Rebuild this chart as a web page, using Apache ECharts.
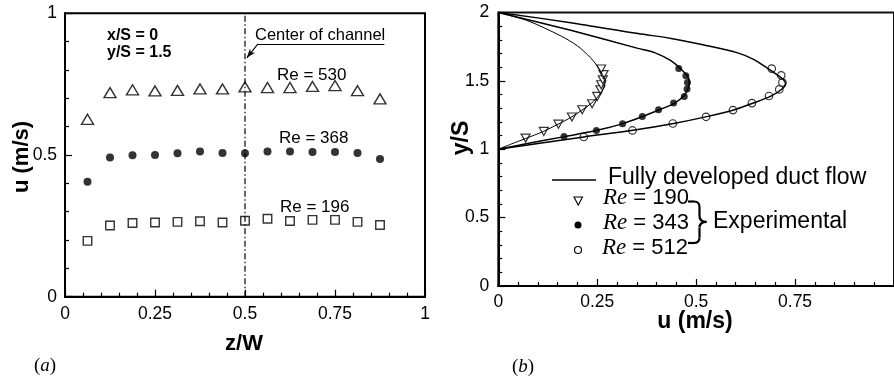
<!DOCTYPE html>
<html>
<head>
<meta charset="utf-8">
<script src="https://cdn.jsdelivr.net/npm/echarts@6/dist/echarts.min.js"></script>
<style>
  html, body { margin: 0; padding: 0; background: #fff; }
  #chart { width: 894px; height: 380px; }
</style>
</head>
<body>
<div id="chart"></div>
<script>
// (a) spanwise profile of u at x/S = 0, y/S = 1.5
const zW = [0.0625, 0.125, 0.1875, 0.25, 0.3125, 0.375, 0.4375, 0.5, 0.5625, 0.625, 0.6875, 0.75, 0.8125, 0.875];
const uRe530 = [0.626, 0.720, 0.730, 0.726, 0.728, 0.733, 0.733, 0.740, 0.738, 0.738, 0.742, 0.745, 0.727, 0.698];
const uRe368 = [0.406, 0.491, 0.499, 0.500, 0.506, 0.512, 0.507, 0.506, 0.512, 0.512, 0.511, 0.511, 0.507, 0.486];
const uRe196 = [0.197, 0.251, 0.260, 0.262, 0.264, 0.266, 0.262, 0.268, 0.275, 0.267, 0.271, 0.271, 0.264, 0.253];
const channelCenter = 0.5;

// (b) measured vertical profiles
const expU190 = [0.069, 0.115, 0.152, 0.186, 0.212, 0.237, 0.250, 0.258, 0.260, 0.264, 0.266, 0.260];
const expY190 = [1.081, 1.130, 1.183, 1.235, 1.288, 1.332, 1.386, 1.435, 1.471, 1.508, 1.545, 1.586];
const expU343 = [0.166, 0.248, 0.314, 0.364, 0.405, 0.443, 0.470, 0.477, 0.478, 0.474, 0.456];
const expY343 = [1.093, 1.137, 1.186, 1.239, 1.288, 1.337, 1.386, 1.440, 1.488, 1.537, 1.589];
const expU512 = [0.216, 0.339, 0.441, 0.525, 0.593, 0.641, 0.684, 0.710, 0.718, 0.715, 0.691];
const expY512 = [1.089, 1.137, 1.188, 1.237, 1.286, 1.337, 1.389, 1.437, 1.488, 1.540, 1.589];

// (b) fully developed duct flow profiles
const fdU190 = [0, 0.075, 0.158, 0.200, 0.233, 0.250, 0.262, 0.270, 0.268, 0.261, 0.249, 0.233, 0.211, 0.185, 0.151, 0.114, 0.069, 0.032, 0];
const fdY190 = [2, 1.938, 1.828, 1.755, 1.669, 1.608, 1.550, 1.500, 1.460, 1.420, 1.375, 1.330, 1.285, 1.235, 1.183, 1.130, 1.078, 1.037, 1];
const fdU343 = [0, 0.183, 0.353, 0.395, 0.437, 0.462, 0.478, 0.483, 0.479, 0.469, 0.446, 0.407, 0.366, 0.315, 0.250, 0.168, 0.080, 0];
const fdY343 = [2, 1.869, 1.737, 1.706, 1.645, 1.584, 1.535, 1.490, 1.440, 1.390, 1.337, 1.288, 1.240, 1.187, 1.138, 1.092, 1.045, 1];
const fdU512 = [0, 0.183, 0.353, 0.437, 0.520, 0.603, 0.645, 0.678, 0.703, 0.720, 0.726, 0.717, 0.690, 0.645, 0.595, 0.527, 0.443, 0.340, 0.216, 0.100, 0];
const fdY512 = [2, 1.925, 1.845, 1.810, 1.762, 1.706, 1.657, 1.596, 1.547, 1.510, 1.480, 1.440, 1.390, 1.338, 1.287, 1.238, 1.188, 1.138, 1.090, 1.042, 1];

const zip = (xs, ys) => xs.map((x, i) => [x, ys[i]]);
const SANS = '"Liberation Sans", Arial, sans-serif';
const SERIF = '"Liberation Serif", "Times New Roman", serif';

function axisBase(extra) {
  return Object.assign({
    type: 'value',
    axisLine: { show: true, onZero: false, lineStyle: { color: '#000', width: 2 } },
    axisTick: { show: true, inside: true, length: 7, lineStyle: { color: '#000', width: 1.2 } },
    minorTick: { show: true, splitNumber: 5, length: 4, lineStyle: { color: '#000', width: 1.2 } },
    splitLine: { show: false },
    minorSplitLine: { show: false },
    axisLabel: { color: '#000', fontSize: 17.5, fontFamily: SANS }
  }, extra);
}

function txt(text, x, y, font, align, extra) {
  return Object.assign({
    type: 'text', x: x, y: y, silent: true,
    style: {
      text: text, font: font, fill: '#000',
      align: align || 'left', textAlign: align || 'left',
      verticalAlign: 'middle', textVerticalAlign: 'middle'
    }
  }, extra || {});
}

// text with an italic part, e.g. "Re" or a panel letter
function richTxt(text, x, y, font, italicFont, align) {
  return {
    type: 'text', x: x, y: y, silent: true,
    style: {
      text: text, font: font, fill: '#000',
      align: align || 'left', textAlign: align || 'left',
      verticalAlign: 'middle', textVerticalAlign: 'middle',
      rich: { i: { font: italicFont, fill: '#000' } }
    }
  };
}

function reLabel(num, x, y) {
  return richTxt('{i|Re} = ' + num, x, y, '22px ' + SANS, 'italic 23px ' + SERIF);
}

function panelTag(letter, x, y) {
  return richTxt('({i|' + letter + '})', x, y, '19px ' + SERIF, 'italic 19px ' + SERIF, 'center');
}

// curly brace grouping the three measured cases
const braceStroke = { fill: 'none', stroke: '#000', lineWidth: 2.2 };
function seg(x1, y1, x2, y2) {
  return { type: 'line', silent: true, shape: { x1, y1, x2, y2 }, style: braceStroke };
}
function curve(x1, y1, cx, cy, x2, y2) {
  return { type: 'bezierCurve', silent: true, shape: { x1, y1, x2, y2, cpx1: cx, cpy1: cy }, style: braceStroke };
}
const brace = [
  seg(688, 201.5, 694, 201.5),
  curve(694, 201.5, 699.5, 201.5, 699.5, 207),
  seg(699.5, 207, 699.5, 216),
  curve(699.5, 216, 699.5, 221.8, 706.5, 221.8),
  curve(706.5, 221.8, 699.5, 221.8, 699.5, 227.6),
  seg(699.5, 227.6, 699.5, 237.5),
  curve(699.5, 237.5, 699.5, 243, 694, 243),
  seg(694, 243, 688, 243)
];

const chart = echarts.init(document.getElementById('chart'), null, { renderer: 'canvas' });

const option = {
  animation: false,
  backgroundColor: '#fff',
  textStyle: { fontFamily: SANS },
  grid: [
    { left: 65, top: 13.3, width: 360, height: 283.4, show: true, borderColor: '#000', borderWidth: 2, backgroundColor: 'transparent' },
    { left: 498.3, top: 12.4, width: 400.8, height: 273.6, show: true, borderColor: '#111', borderWidth: 2, backgroundColor: 'transparent' }
  ],
  xAxis: [
    axisBase({ gridIndex: 0, min: 0, max: 1, interval: 0.25,
      axisLabel: { color: '#000', fontSize: 17.5, fontFamily: SANS, margin: 8 } }),
    axisBase({ gridIndex: 1, min: 0, max: 1, interval: 0.25,
      axisLabel: { color: '#000', fontSize: 17.5, fontFamily: SANS, margin: 7, showMaxLabel: false } })
  ],
  yAxis: [
    axisBase({ gridIndex: 0, min: 0, max: 1, interval: 0.5,
      axisLabel: { color: '#000', fontSize: 17.5, fontFamily: SANS, margin: 8 } }),
    axisBase({ gridIndex: 1, min: 0, max: 2, interval: 0.5,
      axisLabel: { color: '#000', fontSize: 17.5, fontFamily: SANS, margin: 9 } })
  ],
  series: [
    // centre line of the channel, with leader to its label
    {
      type: 'line', xAxisIndex: 0, yAxisIndex: 0, silent: true,
      data: [[channelCenter, 0], [channelCenter, 1]],
      symbol: 'none',
      lineStyle: { color: '#000', width: 1.2, type: [6, 2.5, 1.5, 2.5] },
      markLine: {
        silent: true, animation: false,
        label: { show: false },
        lineStyle: { color: '#000', width: 1.1, type: 'solid' },
        data: [
          [{ coord: [0.887, 0.892], symbol: 'none' }, { coord: [0.536, 0.892], symbol: 'none' }],
          [{ coord: [0.536, 0.892], symbol: 'none' }, { coord: [0.505, 0.843], symbol: 'arrow', symbolSize: [5, 9] }]
        ]
      }
    },
    {
      name: 'Re = 530', type: 'scatter', xAxisIndex: 0, yAxisIndex: 0,
      data: zip(zW, uRe530), symbol: 'triangle', symbolSize: [12, 10],
      itemStyle: { color: '#fff', borderColor: '#000', borderWidth: 1.4 }
    },
    {
      name: 'Re = 368', type: 'scatter', xAxisIndex: 0, yAxisIndex: 0,
      data: zip(zW, uRe368), symbol: 'circle', symbolSize: 8,
      itemStyle: { color: '#000', borderColor: '#000', borderWidth: 0 }
    },
    {
      name: 'Re = 196', type: 'scatter', xAxisIndex: 0, yAxisIndex: 0,
      data: zip(zW, uRe196), symbol: 'rect', symbolSize: 8.5,
      itemStyle: { color: '#fff', borderColor: '#000', borderWidth: 1.4 }
    },
    // fully developed profiles
    {
      type: 'line', xAxisIndex: 1, yAxisIndex: 1, data: zip(fdU190, fdY190),
      symbol: 'none', smooth: 0.3, lineStyle: { color: '#000', width: 1 }
    },
    {
      type: 'line', xAxisIndex: 1, yAxisIndex: 1, data: zip(fdU343, fdY343),
      symbol: 'none', smooth: 0.3, lineStyle: { color: '#000', width: 1.5 }
    },
    {
      type: 'line', xAxisIndex: 1, yAxisIndex: 1, data: zip(fdU512, fdY512),
      symbol: 'none', smooth: 0.3, lineStyle: { color: '#000', width: 1.5 }
    },
    // experimental points
    {
      type: 'scatter', xAxisIndex: 1, yAxisIndex: 1, data: zip(expU190, expY190),
      symbol: 'triangle', symbolRotate: 180, symbolSize: [9, 8],
      itemStyle: { color: '#fff', borderColor: '#000', borderWidth: 1.2 }
    },
    {
      type: 'scatter', xAxisIndex: 1, yAxisIndex: 1, data: zip(expU343, expY343),
      symbol: 'circle', symbolSize: 7,
      itemStyle: { color: '#000', borderWidth: 0 }
    },
    {
      type: 'scatter', xAxisIndex: 1, yAxisIndex: 1, data: zip(expU512, expY512),
      symbol: 'circle', symbolSize: 7.5,
      itemStyle: { color: '#fff', borderColor: '#000', borderWidth: 1.2 }
    }
  ],
  graphic: [
    // panel (a) annotations
    txt('x/S = 0', 107, 36, 'bold 16px ' + SANS),
    txt('y/S = 1.5', 107, 53, 'bold 16px ' + SANS),
    txt('Center of channel', 255, 35, '16.5px ' + SANS),
    txt('Re = 530', 277, 75, '17px ' + SANS),
    txt('Re = 368', 279, 138.5, '17px ' + SANS),
    txt('Re = 196', 280, 207.5, '17px ' + SANS),
    txt('z/W', 244, 344, 'bold 22px ' + SANS, 'center'),
    txt('u (m/s)', 22, 157, 'bold 22px ' + SANS, 'center', { rotation: Math.PI / 2 }),
    panelTag('a', 45, 366),
    // panel (b) axis titles
    txt('u (m/s)', 695, 322, 'bold 23px ' + SANS, 'center'),
    txt('y/S', 462, 138, 'bold 23px ' + SANS, 'center', { rotation: Math.PI / 2 }),
    panelTag('b', 523, 367),
    // panel (b) legend
    { type: 'line', silent: true, shape: { x1: 552, y1: 180, x2: 596, y2: 180 }, style: { stroke: '#000', lineWidth: 1.5 } },
    txt('Fully developed duct flow', 608, 178, '23px ' + SANS),
    { type: 'polygon', silent: true, shape: { points: [[574, 197], [582.5, 197], [578.25, 205]] }, style: { fill: '#fff', stroke: '#000', lineWidth: 1.1 } },
    { type: 'circle', silent: true, shape: { cx: 578, cy: 225, r: 3.5 }, style: { fill: '#000' } },
    { type: 'circle', silent: true, shape: { cx: 578, cy: 250, r: 3.5 }, style: { fill: '#fff', stroke: '#000', lineWidth: 1.2 } },
    reLabel('190', 603, 198),
    reLabel('343', 603, 223),
    reLabel('512', 602, 248)
  ].concat(brace).concat([
    txt('Experimental', 713, 221.5, '23px ' + SANS)
  ])
};

chart.setOption(option);
</script>
</body>
</html>
